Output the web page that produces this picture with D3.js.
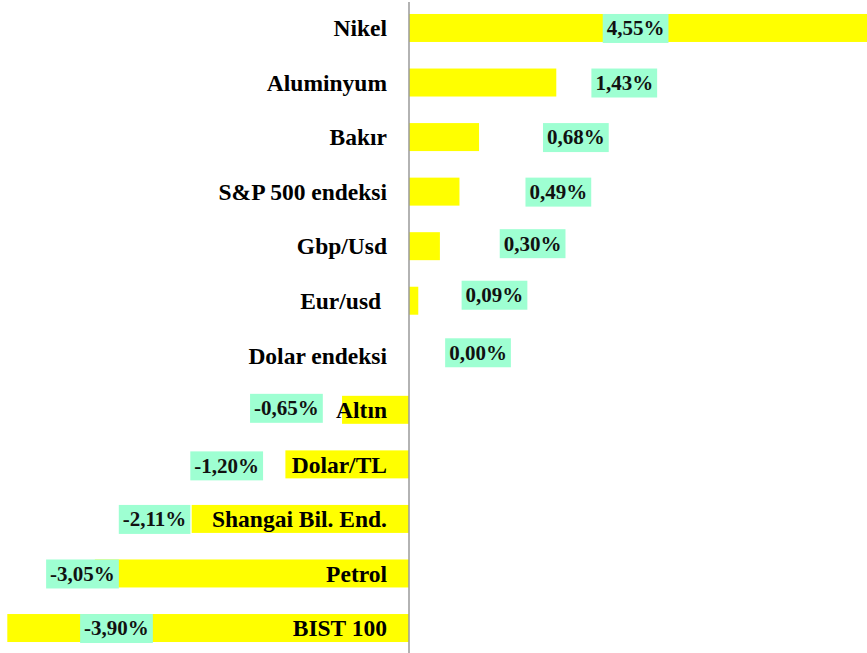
<!DOCTYPE html>
<html>
<head>
<meta charset="utf-8">
<script src="https://cdn.jsdelivr.net/npm/d3@7"></script>
<style>
  html, body { margin: 0; padding: 0; background: #fff; }
  svg { display: block; }
  text { font-family: "Liberation Serif", "Times New Roman", serif; font-weight: 700; white-space: pre; }
</style>
</head>
<body>
<div id="chart"></div>
<script>
// ---- data ----
const categories = ["Nikel", "Aluminyum", "Bakır", "S&P 500 endeksi", "Gbp/Usd", "Eur/usd ",
  "Dolar endeksi", "Altın", "Dolar/TL", "Shangai Bil. End.", "Petrol", "BIST 100"];
const values = [4.55, 1.43, 0.68, 0.49, 0.30, 0.09, 0.00, -0.65, -1.20, -2.11, -3.05, -3.90];
// where each (manually placed) data label sits along the value axis, in % units
const labelAt = [2.20, 2.09, 1.62, 1.45, 1.20, 0.83, 0.67, -1.19, -1.77, -2.47, -3.17, -2.84];
// small vertical nudges of the labels (px)
const labelShift = [0, 0, 0, 0, -3, -6, -3, -2, 1, 0, 0, 0];

// ---- layout ----
const W = 867, H = 653;
const svg = d3.select("#chart").append("svg").attr("width", W).attr("height", H);

const x = d3.scaleLinear().domain([-3.9, 4.55]).range([409 - 3.9 * 103, 409 + 4.55 * 103]);
const y = d3.scaleBand().domain(categories).range([0.7, 655.3])
  .paddingInner(0.487).paddingOuter(0.2435);

const fmt = v => v.toFixed(2).replace(".", ",") + "%";
const rows = categories.map((c, i) => ({ c, v: values[i], at: labelAt[i], dy: labelShift[i] }));

// bars
svg.append("g").selectAll("rect").data(rows).join("rect")
  .attr("x", d => d.v >= 0 ? x(0) : x(d.v))
  .attr("y", d => y(d.c))
  .attr("width", d => Math.abs(x(d.v) - x(0)))
  .attr("height", y.bandwidth())
  .attr("fill", "#ffff00");

// category labels
svg.append("g").selectAll("text").data(rows).join("text")
  .attr("x", 387)
  .attr("y", d => y(d.c) + y.bandwidth() / 2)
  .attr("dy", "0.35em")
  .attr("text-anchor", "end")
  .attr("font-size", "23.5px")
  .attr("fill", "#000")
  .text(d => d.c);

// data labels
const lg = svg.append("g").selectAll("g").data(rows).join("g");
lg.append("rect").attr("class", "bg").attr("fill", "#9effd2");
lg.append("text")
  .attr("x", d => x(d.at))
  .attr("y", d => y(d.c) + y.bandwidth() / 2 + d.dy)
  .attr("dy", "0.35em")
  .attr("text-anchor", "middle")
  .attr("font-size", "21px")
  .attr("fill", "#111")
  .text(d => fmt(d.v));
lg.each(function (d) {
  const g = d3.select(this);
  const bb = g.select("text").node().getBBox();
  g.select("rect.bg")
    .attr("x", bb.x - 4)
    .attr("y", y(d.c) + d.dy)
    .attr("width", bb.width + 8)
    .attr("height", y.bandwidth() + 1);
});

// zero axis line
svg.append("line")
  .attr("x1", x(0)).attr("x2", x(0))
  .attr("y1", 2).attr("y2", H)
  .attr("stroke", "#9a9a9a").attr("stroke-width", 1.5);
</script>
</body>
</html>
